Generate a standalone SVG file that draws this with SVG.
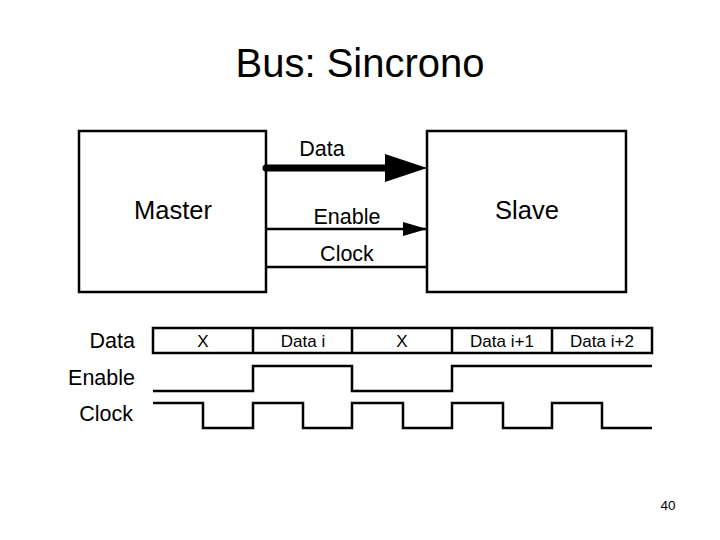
<svg xmlns="http://www.w3.org/2000/svg" width="720" height="540" viewBox="0 0 720 540">
<style>
text{font-family:"Liberation Sans",Arial,sans-serif;fill:#000}
.box{fill:#fff;stroke:#000;stroke-width:2.5}
.w{fill:none;stroke:#000;stroke-width:2.5}
.lbl{font-size:21.5px;text-anchor:middle}
.tl{font-size:21.5px;text-anchor:end}
.cell{font-size:17px;text-anchor:middle}
</style>
<defs>
<marker id="ahBig" markerUnits="userSpaceOnUse" viewBox="0 0 42 28" refX="42" refY="14" markerWidth="42" markerHeight="28" orient="auto"><path d="M0,0 L42,14 L0,28 Z" fill="#000"/></marker>
<marker id="ahSmall" markerUnits="userSpaceOnUse" viewBox="0 0 24 14" refX="24" refY="7" markerWidth="24" markerHeight="14" orient="auto"><path d="M0,0 L24,7 L0,14 Z" fill="#000"/></marker>
</defs>
<rect width="720" height="540" fill="#fff"/>
<text x="360" y="77" font-size="40" text-anchor="middle">Bus: Sincrono</text>
<g id="master"><rect class="box" x="79" y="131" width="187" height="161"/><text x="173" y="219" font-size="25.5" text-anchor="middle">Master</text></g>
<g id="slave"><rect class="box" x="427" y="131" width="199" height="161"/><text x="527" y="219" font-size="25.5" text-anchor="middle">Slave</text></g>
<g id="connectors">
<line x1="266" y1="168" x2="390" y2="168" stroke="#000" stroke-width="7" stroke-linecap="round"/>
<line x1="385" y1="168" x2="427" y2="168" stroke="#000" stroke-width="1" marker-end="url(#ahBig)"/>
<line x1="266" y1="229" x2="427" y2="229" stroke="#000" stroke-width="2.5" marker-end="url(#ahSmall)"/>
<line x1="266" y1="267" x2="427" y2="267" stroke="#000" stroke-width="2.5"/>
<text class="lbl" x="322" y="156">Data</text>
<text class="lbl" x="347" y="224">Enable</text>
<text class="lbl" x="347" y="261">Clock</text>
</g>
<g id="timing">
<text class="tl" x="135" y="348">Data</text>
<text class="tl" x="135" y="385">Enable</text>
<text class="tl" x="133" y="421">Clock</text>
<rect class="box" x="153" y="328" width="499" height="25"/>
<path class="w" d="M253,328V353M352,328V353M452,328V353M552,328V353"/>
<text class="cell" x="203" y="347">X</text>
<text class="cell" x="303" y="347">Data i</text>
<text class="cell" x="402" y="347">X</text>
<text class="cell" x="502" y="347">Data i+1</text>
<text class="cell" x="602" y="347">Data i+2</text>
<path class="w" d="M153,391H253V366H352V391H452V366H652"/>
<path class="w" d="M153,403H203V428H253V403H303V428H352V403H403V428H452V403H503V428H552V403H602V428H652"/>
</g>
<text x="668" y="510" font-size="13.5" text-anchor="middle">40</text>
</svg>
